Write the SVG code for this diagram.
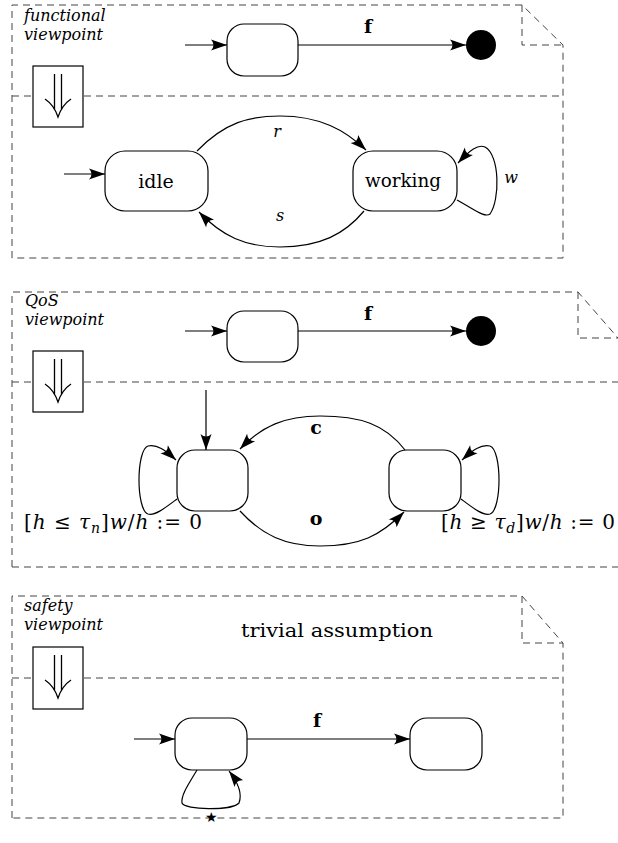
<svg xmlns="http://www.w3.org/2000/svg" width="618" height="843" viewBox="0 0 618 843">
  <style>
    .frame { fill: none; stroke: #444; stroke-width: 1; stroke-dasharray: 7 5; }
    .box { fill: #fff; stroke: #000; stroke-width: 1.2; }
    .dbl { fill: none; stroke: #000; stroke-width: 1.3; }
    .state { fill: #fff; stroke: #000; stroke-width: 1.2; }
    .edge { fill: none; stroke: #000; stroke-width: 1.2; }
    .lbl { font-family: 'DejaVu Serif', serif; }
    .it { font-family: 'DejaVu Serif', serif; font-style: italic; font-size: 16px; }
    .rm { font-family: 'DejaVu Serif', serif; font-size: 19px; }
    .bf { font-family: 'DejaVu Serif', serif; font-weight: bold; font-size: 19px; }
    .up { font-style: normal; }
    .math { font-family: 'DejaVu Serif', serif; font-style: italic; font-size: 20px; }
  </style>
  <defs>
    <marker id="ah" markerUnits="userSpaceOnUse" markerWidth="18" markerHeight="14" viewBox="-17 -7 18 14" refX="0" refY="0" orient="auto">
      <path d="M0,0 L-16,-5.5 Q-11,0 -16,5.5 Z" fill="#000"/>
    </marker>
  </defs>

  <!-- functional viewpoint -->
  <g id="functional">
    <path class="frame" d="M12,258 V5 H522 L563,45 V258 Z"/>
    <path class="frame" d="M522,5 V45 H563"/>
    <line class="frame" x1="12" y1="96" x2="563" y2="96"/>
    <text class="it" x="24" y="21">functional</text>
    <text class="it" x="24" y="40">viewpoint</text>
    <rect class="box" x="33" y="66" width="50" height="61"/>
    <path class="dbl" d="M54.5,74 V110 M61.5,74 V110 M45,99 Q54,105 58,117 Q62,105 71,99"/>
  </g>
  <g id="f-top">
    <rect class="state" x="227" y="24" width="71" height="52" rx="17"/>
  </g>
  <g id="f-final"><circle cx="481" cy="45" r="15" fill="#000"/></g>
  <g id="idle">
    <rect class="state" x="105" y="151" width="103" height="60" rx="20"/>
    <text class="rm" x="156" y="188" text-anchor="middle">idle</text>
  </g>
  <g id="working">
    <rect class="state" x="353" y="151" width="104" height="60" rx="20"/>
    <text class="rm" x="403" y="187" text-anchor="middle" textLength="76" lengthAdjust="spacingAndGlyphs">working</text>
  </g>

  <!-- QoS viewpoint -->
  <g id="qos">
    <path class="frame" d="M12,567 V292 H578 L618,338"/>
    <path class="frame" d="M578,292 V338 H618"/>
    <line class="frame" x1="12" y1="382" x2="618" y2="382"/>
    <line class="frame" x1="12" y1="567" x2="618" y2="567"/>
    <text class="it" x="25" y="306">QoS</text>
    <text class="it" x="25" y="325">viewpoint</text>
    <rect class="box" x="33" y="351" width="50" height="61"/>
    <path class="dbl" d="M54.5,359 V395 M61.5,359 V395 M45,384 Q54,390 58,402 Q62,390 71,384"/>
  </g>
  <g id="q-top">
    <rect class="state" x="227" y="311" width="71" height="51" rx="17"/>
  </g>
  <g id="q-final"><circle cx="481" cy="331" r="15" fill="#000"/></g>
  <g id="q-left">
    <rect class="state" x="177" y="450" width="71" height="61" rx="18"/>
  </g>
  <g id="q-right">
    <rect class="state" x="389" y="450" width="72" height="61" rx="18"/>
  </g>

  <!-- safety viewpoint -->
  <g id="safety">
    <path class="frame" d="M12,818 V596 H522 L563,643 V818 Z"/>
    <path class="frame" d="M522,596 V643 H563"/>
    <line class="frame" x1="12" y1="678" x2="563" y2="678"/>
    <text class="it" x="24" y="611">safety</text>
    <text class="it" x="24" y="630">viewpoint</text>
    <text class="rm" x="241" y="637" font-size="21" textLength="192" lengthAdjust="spacingAndGlyphs">trivial assumption</text>
    <rect class="box" x="33" y="647" width="50" height="62"/>
    <path class="dbl" d="M54.5,655 V691 M61.5,655 V691 M45,680 Q54,686 58,698 Q62,686 71,680"/>
  </g>
  <g id="s-left">
    <rect class="state" x="175" y="718" width="72" height="52" rx="17"/>
  </g>
  <g id="s-right">
    <rect class="state" x="410" y="718" width="72" height="52" rx="17"/>
  </g>

  <g id="connectors">
    <!-- functional -->
    <line class="edge" x1="185" y1="45" x2="227" y2="45" marker-end="url(#ah)"/>
    <line class="edge" x1="298" y1="45" x2="466" y2="45" marker-end="url(#ah)"/>
    <text class="bf" x="368" y="33" text-anchor="middle">f</text>
    <line class="edge" x1="64" y1="174" x2="105" y2="174" marker-end="url(#ah)"/>
    <path class="edge" d="M197,151 C225,122 250,116 280,116 C320,116 345,130 366,150" marker-end="url(#ah)"/>
    <text class="it" x="277" y="137" font-size="19" text-anchor="middle">r</text>
    <path class="edge" d="M364,211 C345,234 320,247 280,247 C245,247 222,236 199,212" marker-end="url(#ah)"/>
    <text class="it" x="280" y="221" font-size="19" text-anchor="middle">s</text>
    <path class="edge" d="M457,200 C475,210 485,218 490,214 C500,200 500,155 485,147 C478,144 470,150 458,163" marker-end="url(#ah)"/>
    <text class="it" x="511" y="183" font-size="19" text-anchor="middle">w</text>

    <!-- QoS -->
    <line class="edge" x1="185" y1="331" x2="227" y2="331" marker-end="url(#ah)"/>
    <line class="edge" x1="298" y1="331" x2="466" y2="331" marker-end="url(#ah)"/>
    <text class="bf" x="368" y="320" text-anchor="middle">f</text>
    <line class="edge" x1="206" y1="390" x2="206" y2="450" marker-end="url(#ah)"/>
    <path class="edge" d="M405,450 C385,424 360,416 320,416 C285,416 262,426 240,449" marker-end="url(#ah)"/>
    <text class="bf" x="316" y="434" text-anchor="middle">c</text>
    <path class="edge" d="M240,511 C262,535 285,546 320,546 C360,546 380,536 404,512" marker-end="url(#ah)"/>
    <text class="bf" x="316" y="525" text-anchor="middle">o</text>
    <path class="edge" d="M177,499 C165,508 155,516 148,514 C136,510 136,450 148,446 C157,444 165,450 176,460" marker-end="url(#ah)"/>
    <path class="edge" d="M461,499 C473,508 483,516 490,514 C502,510 502,450 490,446 C481,444 473,450 462,460" marker-end="url(#ah)"/>
    <text class="math" x="24" y="529" textLength="178" lengthAdjust="spacing"><tspan class="up">[</tspan>h <tspan class="up">≤</tspan> τ<tspan font-size="14" dy="4">n</tspan><tspan class="up" dy="-4">]</tspan>w<tspan class="up">/</tspan>h <tspan class="up">:= 0</tspan></text>
    <text class="math" x="441" y="529" textLength="174" lengthAdjust="spacing"><tspan class="up">[</tspan>h <tspan class="up">≥</tspan> τ<tspan font-size="14" dy="4">d</tspan><tspan class="up" dy="-4">]</tspan>w<tspan class="up">/</tspan>h <tspan class="up">:= 0</tspan></text>

    <!-- safety -->
    <line class="edge" x1="134" y1="739" x2="175" y2="739" marker-end="url(#ah)"/>
    <line class="edge" x1="247" y1="739" x2="410" y2="739" marker-end="url(#ah)"/>
    <text class="bf" x="317" y="727" text-anchor="middle">f</text>
    <path class="edge" d="M197,770 C188,785 181,795 182,803 C184,810 232,811 239,803 C242,795 240,785 229,771" marker-end="url(#ah)"/>
    <text class="lbl" font-size="14" x="211" y="822" text-anchor="middle">★</text>
  </g>
</svg>
